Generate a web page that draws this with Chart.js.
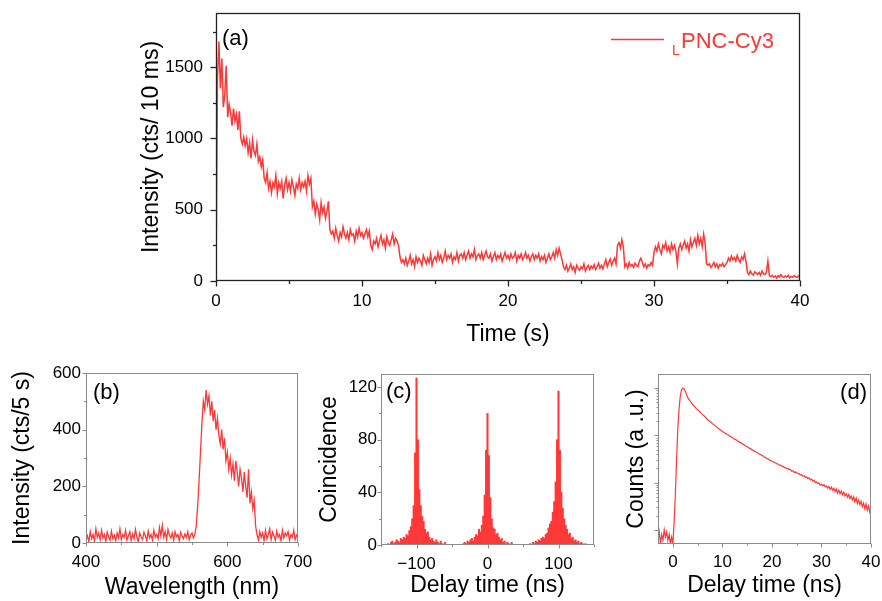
<!DOCTYPE html>
<html><head><meta charset="utf-8">
<script src="https://cdn.jsdelivr.net/npm/chart.js@4.4.1/dist/chart.umd.min.js"></script>
<style>
html,body{margin:0;padding:0;background:#fff;}
#wrap{position:relative;width:882px;height:601px;overflow:hidden;background:#fff;}
canvas{position:absolute;}
</style></head><body>
<div id="wrap">
<canvas id="ca" style="left:0px;top:0px" width="882" height="360"></canvas>
<canvas id="cb" style="left:0px;top:360px" width="320" height="241"></canvas>
<canvas id="cc" style="left:300px;top:360px" width="305" height="241"></canvas>
<canvas id="cd" style="left:605px;top:360px" width="277" height="241"></canvas>
</div>
<script>
// ---------------- DATA ----------------
// (a) intensity trace, sampled every 0.1 s from 0 s to 40 s
const traceStartA = 0, traceStepA = 0.1;
const intensityA = [
 0,1420,1680,1350,1560,1220,1300,1510,1150,1240,
 1180,1090,1210,1120,1170,1060,1190,1000,960,1010,
 950,1000,900,970,860,990,910,880,960,840,
 870,800,850,720,690,760,650,700,620,690,
 660,740,610,690,650,700,580,670,720,640,
 690,630,710,660,600,680,650,720,640,690,
 660,700,630,740,680,720,520,560,470,540,
 500,430,550,480,520,440,490,560,360,330,
 350,300,370,320,280,340,310,380,330,300,
 340,290,360,320,330,280,350,310,370,320,
 340,300,330,360,310,350,250,220,280,260,
 300,240,280,320,260,290,230,310,270,250,
 290,330,260,300,280,250,170,130,150,120,
 160,110,140,180,120,150,100,170,130,160,
 140,110,180,150,120,160,130,190,110,150,
 170,140,200,150,180,130,160,210,150,180,
 160,190,130,170,150,200,140,180,190,160,
 200,150,180,210,160,190,170,220,150,180,
 190,160,200,150,180,210,170,160,190,140,
 170,200,150,180,160,190,140,170,200,160,
 180,150,190,160,170,200,140,180,160,190,
 150,170,200,160,180,140,170,190,150,180,
 160,190,140,170,150,180,130,160,190,150,
 170,200,160,220,180,230,190,150,100,80,
 110,70,90,120,80,100,60,110,90,75,
 100,85,120,70,95,110,80,105,90,115,
 80,100,125,90,110,85,120,150,100,130,
 155,110,140,160,120,250,270,230,290,240,
 100,120,90,130,105,115,95,125,110,100,
 140,160,130,100,120,90,115,105,130,110,
 200,240,210,260,220,190,250,230,270,210,
 240,200,260,220,250,210,120,230,260,220,
 250,280,230,260,210,290,240,270,300,250,
 320,260,300,240,330,270,120,110,120,95,
 110,130,100,120,90,115,105,125,100,115,
 130,160,140,175,150,165,140,180,150,130,
 170,150,190,140,60,45,70,50,40,65,
 55,45,60,40,70,50,45,60,140,40,
 30,40,25,35,20,38,28,45,30,25,
 35,28,40,22,32,26,38,30,24,35,
 30
];
const xTicksA = [0, 10, 20, 30, 40];
const xTickLabelsA = ['0', '10', '20', '30', '40'];
const xMinorA = [5, 15, 25, 35];
const yTicksA = [0, 500, 1000, 1500];
const yTickLabelsA = ['0', '500', '1000', '1500'];
const yMinorA = [250, 750, 1250, 1750];

// (b) spectrum, every 2 nm from 400 to 700 nm
const wlStartB = 400, wlStepB = 2;
const spectrumB = [
 10,25,5,40,15,30,8,50,20,35,
 12,45,18,30,5,38,22,10,42,15,
 28,8,35,18,50,12,30,20,45,10,
 25,40,8,32,15,48,20,5,35,22,
 12,38,25,8,42,18,30,10,45,20,
 30,15,55,25,62,20,40,12,48,28,
 18,35,10,40,22,30,8,38,25,15,
 32,20,40,12,28,35,18,30,60,130,
 220,320,420,500,470,540,490,520,450,500,
 430,470,400,440,380,350,400,330,370,290,
 320,260,300,240,280,220,290,250,200,260,
 230,180,250,200,160,260,140,180,120,150,
 60,30,10,40,20,35,8,45,15,30,
 50,12,38,25,10,42,20,30,8,45,
 18,35,25,40,10,30,20,45,12,28,
 20
];
const xTicksB = [400, 500, 600, 700];
const xTickLabelsB = ['400', '500', '600', '700'];
const xMinorB = [450, 550, 650];
const yTicksB = [0, 200, 400, 600];
const yTickLabelsB = ['0', '200', '400', '600'];
const yMinorB = [100, 300, 500];

// (c) coincidence histogram, 2 ns bins centred from -150 to 150 ns
const binStartC = -150, binStepC = 2;
const coincidenceC = [
 0,0,0,0,0,1,0,2,3,1,
 2,4,3,2,5,4,6,5,8,7,
 11,14,20,30,70,127,80,42,30,22,
 18,12,9,10,6,4,5,3,2,4,
 2,1,3,1,0,2,0,0,0,0,
 0,0,0,0,0,0,0,0,1,2,
 1,3,2,4,5,3,6,8,7,12,
 10,15,22,38,72,100,68,36,20,13,
 12,8,9,6,4,5,2,3,1,2,
 1,0,2,0,0,0,0,0,0,0,
 0,0,0,0,0,1,0,2,1,3,
 2,4,3,5,6,5,8,9,13,16,
 18,25,33,48,80,117,72,40,28,20,
 15,12,8,9,5,6,3,4,2,3,
 1,2,1,0,1,0,0,0,0,0,
 0
];
const xTicksC = [-100, 0, 100];
const xTickLabelsC = ['\u2212100', '0', '100'];
const xMinorC = [-150, -50, 50, 150];
const yTicksC = [0, 40, 80, 120];
const yTickLabelsC = ['0', '40', '80', '120'];
const yMinorC = [20, 60, 100];

// (d) decay curve, every 0.25 ns from -3 to 40 ns (log counts)
const delayStartD = -3, delayStepD = 0.25;
const countsD = [
 6,9,5,8,6,10,7,9,6,8,5,7,
 5,14,55,300,1400,3600,6800,9200,10100,9700,8600,7400,
 6300,5800,5300,4950,4500,4250,3950,3700,
 3500,3300,3100,2920,2750,2620,2480,2330,
 2150,2060,1950,1870,1770,1690,1610,1540,1460,1390,1335,1265,
 1210,1170,1120,1085,1040,1005,965,935,895,868,828,805,770,748,712,694,660,645,612,597,
 572,556,530,518,494,483,458,451,428,420,399,391,372,366,345,340,322,318,300,296,
 283,277,264,263,249,248,235,236,221,222,208,211,198,199,186,190,174,178,163,168,
 161,154,155,145,147,136,140,128,133,121,126,114,119,107,112,100,104,95,99,88,
 92,86,90,81,85,76,83,72,80,69,76,64,73,60,69,58,66,55,63,52,
 58,49,56,46,52,43,50,39,47,36,43,34,40,31,37,28,35,26,32,24,
 30
];
const xTicksD = [0, 10, 20, 30, 40];
const xTickLabelsD = ['0', '10', '20', '30', '40'];
const xMinorD = [5, 15, 25, 35];
const yMajorD = [10, 100, 1000, 10000];
const yMinorD = [20,30,40,50,60,70,80,90,200,300,400,500,600,700,800,900,2000,3000,4000,5000,6000,7000,8000,9000];

// ---------------- DRAWING ----------------
const FONT = "'Liberation Sans', Arial, Helvetica, sans-serif";
const RED = '#ff3838';
Chart.defaults.font.family = FONT;
Chart.defaults.color = '#000';

const toXY = (vals, x0, dx) => vals.map((y, i) => ({ x: x0 + i * dx, y }));

const framePlugin = {
  id: 'frame',
  afterDatasetsDraw(chart, args, o) {
    const { ctx, chartArea: a, scales } = chart;
    ctx.save();
    ctx.strokeStyle = o.color;
    ctx.lineWidth = o.width;
    const L = Math.round(a.left) + 0.5, R = Math.round(a.right) - 0.5;
    const T = Math.round(a.top) + 0.5, B = Math.round(a.bottom) - 0.5;
    ctx.strokeRect(L, T, R - L, B - T);
    const tx = (vals, len) => (vals || []).forEach(v => {
      const p = Math.round(scales.x.getPixelForValue(v)) + 0.5;
      ctx.beginPath(); ctx.moveTo(p, B); ctx.lineTo(p, B + len); ctx.stroke();
    });
    const ty = (vals, len) => (vals || []).forEach(v => {
      const p = Math.round(scales.y.getPixelForValue(v)) + 0.5;
      ctx.beginPath(); ctx.moveTo(L, p); ctx.lineTo(L - len, p); ctx.stroke();
    });
    tx(o.xMajor, o.majorLen); tx(o.xMinor, o.minorLen);
    ty(o.yMajor, o.majorLen); ty(o.yMinor, o.minorLen);
    ctx.restore();
  }
};

const textPlugin = {
  id: 'texts',
  afterDraw(chart, args, o) {
    const ctx = chart.ctx;
    (o.lines || []).forEach(l => {
      ctx.save(); ctx.strokeStyle = l.color; ctx.lineWidth = l.width;
      ctx.beginPath(); ctx.moveTo(l.x1, l.y); ctx.lineTo(l.x2, l.y); ctx.stroke(); ctx.restore();
    });
    (o.items || []).forEach(it => {
      ctx.save();
      ctx.font = it.size + 'px ' + FONT;
      ctx.fillStyle = it.color || '#000';
      ctx.textAlign = it.align || 'left';
      ctx.textBaseline = it.baseline || 'middle';
      ctx.fillText(it.text, it.x, it.y);
      ctx.restore();
    });
  }
};

function makeScale(o) {
  const s = {
    type: o.type || 'linear',
    min: o.min, max: o.max,
    offset: false,
    grid: { display: false, drawTicks: false },
    border: { display: false },
    afterFit: sc => {
      if (o.horizontal) sc.height = o.thick; else sc.width = o.thick;
      sc.paddingLeft = 0; sc.paddingRight = 0; sc.paddingTop = 0; sc.paddingBottom = 0;
    },
    ticks: {
      display: !!o.tickLabels, font: { size: 17 }, padding: o.labelPad || 0,
      autoSkip: false, maxRotation: 0, minRotation: 0, color: '#000',
      callback: (v, i) => (o.tickLabels ? o.tickLabels[i] : '')
    },
    title: { display: true, text: o.title, font: { size: 23 }, color: '#000', padding: o.titlePad }
  };
  if (o.tickVals) s.afterBuildTicks = sc => { sc.ticks = o.tickVals.map(v => ({ value: v })); };
  return s;
}

const common = {
  responsive: false, animation: false, devicePixelRatio: 1,
  events: []
};

// Panel (a)
new Chart(document.getElementById('ca'), {
  type: 'line',
  data: { datasets: [{ label: 'LPNC-Cy3', data: toXY(intensityA, traceStartA, traceStepA),
    borderColor: RED, borderWidth: 1.5, pointRadius: 0, tension: 0 }] },
  options: Object.assign({}, common, {
    layout: { padding: { left: 130, right: 82, top: 13, bottom: 0 } },
    plugins: {
      legend: { display: false }, tooltip: { enabled: false },
      frame: { color: '#222', width: 1.3, xMajor: xTicksA, xMinor: xMinorA, yMajor: yTicksA, yMinor: yMinorA, majorLen: 6, minorLen: 3.5 },
      texts: {
        lines: [{ x1: 611, x2: 664, y: 39.5, color: RED, width: 1.5 }],
        items: [
          { text: '(a)', x: 222, y: 39, size: 22 },
          { text: 'L', x: 672, y: 55, size: 14, color: RED, baseline: 'alphabetic' },
          { text: 'PNC-Cy3', x: 681, y: 48, size: 22, color: RED, baseline: 'alphabetic' }
        ]
      }
    },
    scales: {
      x: makeScale({ min: 0, max: 40, horizontal: true, thick: 79, tickVals: xTicksA, tickLabels: xTickLabelsA, labelPad: 10, title: 'Time (s)', titlePad: { top: 0, bottom: 12 } }),
      y: makeScale({ min: 0, max: 1880, thick: 86, tickVals: yTicksA, tickLabels: yTickLabelsA, labelPad: 13, title: 'Intensity (cts/ 10 ms)', titlePad: { top: 8, bottom: 0 } })
    }
  }),
  plugins: [framePlugin, textPlugin]
});

// Panel (b)
new Chart(document.getElementById('cb'), {
  type: 'line',
  data: { datasets: [{ label: 'spectrum', data: toXY(spectrumB, wlStartB, wlStepB),
    borderColor: RED, borderWidth: 1.3, pointRadius: 0, tension: 0 }] },
  options: Object.assign({}, common, {
    layout: { padding: { left: 0, right: 22, top: 13, bottom: 0 } },
    plugins: {
      legend: { display: false }, tooltip: { enabled: false },
      frame: { color: '#8a8a8a', width: 1, xMajor: xTicksB, xMinor: xMinorB, yMajor: yTicksB, yMinor: yMinorB, majorLen: 4, minorLen: 2.5 },
      texts: { items: [{ text: '(b)', x: 93, y: 33, size: 22 }] }
    },
    scales: {
      x: makeScale({ min: 400, max: 700, horizontal: true, thick: 58, tickVals: xTicksB, tickLabels: xTickLabelsB, labelPad: 9, title: 'Wavelength (nm)', titlePad: { top: 0, bottom: 0 } }),
      y: makeScale({ min: 0, max: 600, thick: 86, tickVals: yTicksB, tickLabels: yTickLabelsB, labelPad: 5, title: 'Intensity (cts/5 s)', titlePad: { top: 9, bottom: 0 } })
    }
  }),
  plugins: [framePlugin, textPlugin]
});

// Panel (c)
new Chart(document.getElementById('cc'), {
  type: 'bar',
  data: { datasets: [{ label: 'coincidence', data: toXY(coincidenceC, binStartC, binStepC),
    backgroundColor: RED, borderWidth: 0, barPercentage: 1, categoryPercentage: 1 }] },
  options: Object.assign({}, common, {
    layout: { padding: { left: 0, right: 11, top: 14, bottom: 0 } },
    plugins: {
      legend: { display: false }, tooltip: { enabled: false },
      frame: { color: '#8a8a8a', width: 1, xMajor: xTicksC, xMinor: xMinorC, yMajor: yTicksC, yMinor: yMinorC, majorLen: 4, minorLen: 2.5 },
      texts: { items: [{ text: '(c)', x: 86, y: 32, size: 22 }] }
    },
    scales: {
      x: makeScale({ min: -150, max: 150, horizontal: true, thick: 56, tickVals: xTicksC, tickLabels: xTickLabelsC, labelPad: 9, title: 'Delay time (ns)', titlePad: { top: 0, bottom: 2 } }),
      y: makeScale({ min: 0, max: 130, thick: 81, tickVals: yTicksC, tickLabels: yTickLabelsC, labelPad: 4, title: 'Coincidence', titlePad: { top: 16, bottom: 0 } })
    }
  }),
  plugins: [framePlugin, textPlugin]
});

// Panel (d)
new Chart(document.getElementById('cd'), {
  type: 'line',
  data: { datasets: [{ label: 'decay', data: toXY(countsD, delayStartD, delayStepD),
    borderColor: RED, borderWidth: 1.2, pointRadius: 0, tension: 0 }] },
  options: Object.assign({}, common, {
    layout: { padding: { left: 0, right: 11, top: 14, bottom: 0 } },
    plugins: {
      legend: { display: false }, tooltip: { enabled: false },
      frame: { color: '#8a8a8a', width: 1, xMajor: xTicksD, xMinor: xMinorD, yMajor: yMajorD, yMinor: yMinorD, majorLen: 4, minorLen: 2 },
      texts: { items: [{ text: '(d)', x: 262, y: 33, size: 22, align: 'right' }] }
    },
    scales: {
      x: makeScale({ min: -3, max: 40, horizontal: true, thick: 57, tickVals: xTicksD, tickLabels: xTickLabelsD, labelPad: 8, title: 'Delay time (ns)', titlePad: { top: 0, bottom: 2 } }),
      y: makeScale({ type: 'logarithmic', min: 5, max: 20000, thick: 53, title: 'Counts (a .u.)', titlePad: { top: 18, bottom: 0 } })
    }
  }),
  plugins: [framePlugin, textPlugin]
});
</script>
</body></html>
